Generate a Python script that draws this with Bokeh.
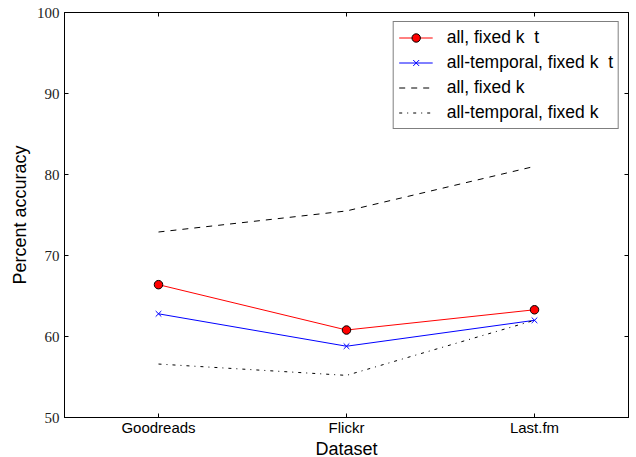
from bokeh.plotting import figure
from bokeh.models import FactorRange, Range1d, LinearAxis, CategoricalAxis, Legend, LegendItem, FixedTicker
from bokeh.embed import file_html
from bokeh.resources import INLINE

datasets = ["Goodreads", "Flickr", "Last.fm"]
all_fixed_kt = [66.4, 60.8, 63.3]
alltemp_fixed_kt = [62.8, 58.8, 62.0]
all_fixed_k = [72.9, 75.5, 81.0]
alltemp_fixed_k = [56.6, 55.2, 62.0]
y_ticks = [50, 60, 70, 80, 90, 100]
labels = ["all, fixed k  t", "all-temporal, fixed k  t", "all, fixed k", "all-temporal, fixed k"]

p = figure(frame_width=564, frame_height=405,
           x_range=FactorRange(factors=datasets), y_range=Range1d(50, 100),
           output_backend="svg", toolbar_location=None,
           min_border_left=64, min_border_right=2, min_border_top=12, min_border_bottom=36)
p.background_fill_color = "white"
p.border_fill_color = "white"
p.outline_line_color = "black"
p.grid.visible = False

sans = "Liberation Sans"
serif = "Liberation Serif"

# bottom axis
xa = p.xaxis[0]
xa.axis_label = "Dataset"
xa.axis_label_text_font = sans
xa.axis_label_text_font_style = "normal"
xa.axis_label_text_font_size = "18px"
xa.axis_label_text_color = "black"
xa.axis_label_standoff = 0
xa.major_label_text_font = sans
xa.major_label_text_font_size = "15px"
xa.major_label_text_color = "black"
xa.major_label_standoff = 1
xa.major_tick_in = 4
xa.major_tick_out = 0
xa.axis_line_color = "black"
xa.major_tick_line_color = "black"

ya = p.yaxis[0]
ya.ticker = FixedTicker(ticks=y_ticks)
ya.axis_label = "Percent accuracy"
ya.axis_label_text_font = sans
ya.axis_label_text_font_style = "normal"
ya.axis_label_text_font_size = "18px"
ya.axis_label_text_color = "black"
ya.axis_label_standoff = 4
ya.major_label_text_font = serif
ya.major_label_text_font_size = "15px"
ya.major_label_text_color = "#222222"
ya.major_label_standoff = 5
ya.major_tick_in = 4
ya.major_tick_out = 0
ya.minor_tick_line_color = None
ya.axis_line_color = "black"

top = CategoricalAxis(major_label_text_font_size="1px", major_label_text_color=None,
                      major_label_standoff=0, major_tick_in=4, major_tick_out=0,
                      axis_line_color="black")
p.add_layout(top, "above")
right = LinearAxis(ticker=FixedTicker(ticks=y_ticks), major_label_text_font_size="1px",
                   major_label_text_color=None, major_label_standoff=0,
                   major_tick_in=4, major_tick_out=0,
                   minor_tick_line_color=None, axis_line_color="black")
p.add_layout(right, "right")

r1 = p.line(datasets, all_fixed_kt, line_color="red", line_width=1)
m1 = p.scatter(datasets, all_fixed_kt, marker="circle", size=8.5, fill_color="red", line_color="black", line_width=1)
r2 = p.line(datasets, alltemp_fixed_kt, line_color="blue", line_width=1)
m2 = p.scatter(datasets, alltemp_fixed_kt, marker="x", size=8, line_color="blue", line_width=1)
r3 = p.line(datasets, all_fixed_k, line_color="black", line_width=1, line_dash="6 6")
r4 = p.line(datasets, alltemp_fixed_k, line_color="black", line_width=1, line_dash="3 5 1 5")

legend = Legend(items=[
    LegendItem(label=labels[0], renderers=[r1, m1]),
    LegendItem(label=labels[1], renderers=[r2, m2]),
    LegendItem(label=labels[2], renderers=[r3]),
    LegendItem(label=labels[3], renderers=[r4]),
], location="top_right")
legend.label_text_font = sans
legend.label_text_font_size = "17.5px"
legend.label_text_color = "black"
legend.border_line_color = "black"
legend.border_line_width = 1
legend.margin = 9
legend.padding = 5
legend.spacing = 4
legend.glyph_width = 34
legend.label_height = 21
legend.glyph_height = 21
legend.label_standoff = 14
legend.background_fill_alpha = 1
p.add_layout(legend, "center")

open("out.html", "w").write(file_html(p, INLINE))
